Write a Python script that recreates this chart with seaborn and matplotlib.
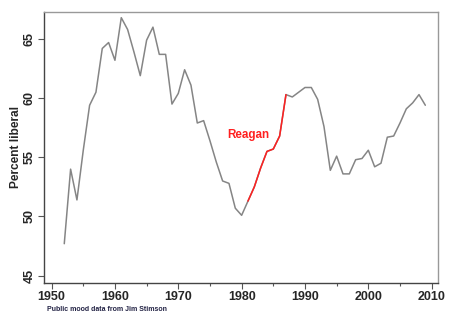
import matplotlib
matplotlib.use("Agg")
import matplotlib.pyplot as plt
from matplotlib.ticker import MultipleLocator
import seaborn as sns
import pandas as pd

years = list(range(1952, 2010))
liberal = [
    47.7, 54.0, 51.4, 55.6, 59.4, 60.5, 64.2, 64.7, 63.2, 66.8,
    65.8, 63.9, 61.9, 64.9, 66.0, 63.7, 63.7, 59.5, 60.4, 62.4,
    61.1, 57.9, 58.1, 56.4, 54.6, 53.0, 52.8, 50.7, 50.1, 51.3,
    52.5, 54.1, 55.5, 55.7, 56.8, 60.3, 60.1, 60.5, 60.9, 60.9,
    59.9, 57.6, 53.9, 55.1, 53.6, 53.6, 54.8, 54.9, 55.6, 54.2,
    54.5, 56.7, 56.8, 57.9, 59.1, 59.6, 60.3, 59.4,
]
reagan_start, reagan_end = 1981, 1987
label_text = "Reagan"
y_title = "Percent liberal"
source_note = "Public mood data from Jim Stimson"
x_ticks = [1950, 1960, 1970, 1980, 1990, 2000, 2010]
y_ticks = [45, 50, 55, 60, 65]

df = pd.DataFrame({"year": years, "liberal": liberal})
reagan = df[(df.year >= reagan_start) & (df.year <= reagan_end)]

sns.set_style("white")
plt.rcParams["font.family"] = ["Liberation Sans", "DejaVu Sans"]

fig = plt.figure(figsize=(4.5, 3.27), dpi=100)
ax = fig.add_axes([44 / 450, 1 - 283 / 327, (438 - 44) / 450, (283 - 12) / 327])

sns.lineplot(data=df, x="year", y="liberal", ax=ax, color="#858585", lw=1.1)
sns.lineplot(data=reagan, x="year", y="liberal", ax=ax, color="#ff2020", lw=1.1)

ax.text(1981.0, 56.9, label_text, color="#ff2020", fontsize=8.4,
        fontweight="bold", ha="center", va="center")

ax.set_xlim(1948.8, 2011.0)
ax.set_ylim(44.38, 67.28)
ax.set_xticks(x_ticks)
ax.set_yticks(y_ticks)
ax.xaxis.set_minor_locator(MultipleLocator(5))
ax.set_xticklabels([str(t) for t in x_ticks], fontweight="bold", fontsize=9)
ax.set_yticklabels([str(t) for t in y_ticks], fontweight="bold", fontsize=9,
                   rotation=90, va="center")
ax.tick_params(axis="both", which="major", direction="out", length=4,
               width=0.8, color="#555555", pad=2, bottom=True, left=True)
ax.tick_params(axis="x", which="minor", direction="out", length=2,
               width=0.8, color="#555555", bottom=True)
ax.set_xlabel("")
ax.set_ylabel(y_title, fontweight="bold", fontsize=8.6)
ax.yaxis.set_label_coords(-0.055, 0.5)

for side in ["left", "bottom"]:
    ax.spines[side].set_color("#444444")
    ax.spines[side].set_linewidth(1.0)
for side in ["top", "right"]:
    ax.spines[side].set_color("#999999")
    ax.spines[side].set_linewidth(1.0)

fig.text(46.7 / 450, 1 - 309.5 / 327, source_note, fontsize=5.0,
         fontweight="bold", color="#222244", ha="left", va="center")

fig.savefig("out.png", dpi=100)
